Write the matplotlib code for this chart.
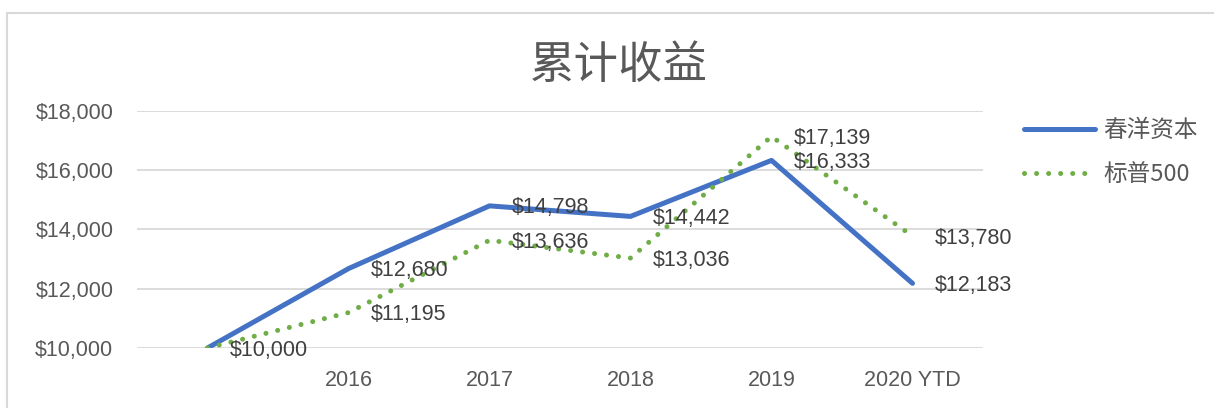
import matplotlib
matplotlib.use("Agg")
import matplotlib.pyplot as plt
from matplotlib.lines import Line2D

plt.rcParams['font.family'] = ['Liberation Sans', 'Noto Sans CJK SC', 'DejaVu Sans']

categories = ["", "2016", "2017", "2018", "2019", "2020 YTD"]
fund_name = "春洋资本"
sp_name = "标普500"
fund_values = [10000, 12680, 14798, 14442, 16333, 12183]
sp_values = [10000, 11195, 13636, 13036, 17139, 13780]
y_ticks = [10000, 12000, 14000, 16000, 18000]
title = "累计收益"

W, H = 1214, 408
fig = plt.figure(figsize=(W / 100, H / 100), dpi=100)
ax = fig.add_axes([137 / W, 1 - 348 / H, (983 - 137) / W, (348 - 111) / H])

x = list(range(len(categories)))
blue = "#4472C4"
green = "#70AD47"
ax.plot(x, fund_values, color=blue, lw=3.6, solid_capstyle='round', solid_joinstyle='round', zorder=3)
ax.plot(x, sp_values, color=green, lw=3.6, linestyle=(0, (0.01, 2.4)), dash_capstyle='round', zorder=3)

ax.set_xlim(-0.5, len(categories) - 0.5)
ax.set_ylim(10000, 18000)
ax.set_yticks(y_ticks)
ax.set_yticklabels([f"${v:,}" for v in y_ticks])
ax.set_xticks(x)
ax.set_xticklabels(categories)
ax.tick_params(length=0, labelsize=15.5, labelcolor="#595959")
ax.tick_params(axis='y', pad=17)
ax.tick_params(axis='x', pad=16)
ax.grid(axis='y', color="#D9D9D9", lw=1.3)
ax.set_axisbelow(True)
for s in ax.spines.values():
    s.set_visible(False)

for series in (fund_values, sp_values):
    for xi, v in zip(x, series):
        if xi == 0 and series is sp_values:
            continue
        ax.annotate(f"${v:,}", (xi, v), xytext=(16, -1.5), textcoords='offset points',
                    ha='left', va='center', fontsize=15.5, color="#404040", zorder=4)

fig.text(619 / W, 1 - 65 / H, title, ha='center', va='center', fontsize=32,
         color="#595959", family=['Noto Sans CJK SC', 'DejaVu Sans'])

handles = [Line2D([0], [0], color=blue, lw=3.6, solid_capstyle='round'),
           Line2D([0], [0], color=green, lw=3.6, linestyle=(0, (0.01, 2.4)), dash_capstyle='round')]
leg = fig.legend(handles, [fund_name, sp_name], loc='upper left',
                 bbox_to_anchor=(1003 / W, 1 - 98 / H), frameon=False,
                 handlelength=3.0, handletextpad=0.35, labelspacing=0.88,
                 prop={'family': ['Noto Sans CJK SC', 'DejaVu Sans'], 'size': 17})
for t in leg.get_texts():
    t.set_color("#595959")

# chart area border (top and left)
fig.add_artist(Line2D([7 / W, 1], [1 - 13 / H, 1 - 13 / H], color="#D9D9D9", lw=1.5))
fig.add_artist(Line2D([7 / W, 7 / W], [1 - 13 / H, 0], color="#D9D9D9", lw=1.5))

fig.savefig("out.png", dpi=100, facecolor="white")
